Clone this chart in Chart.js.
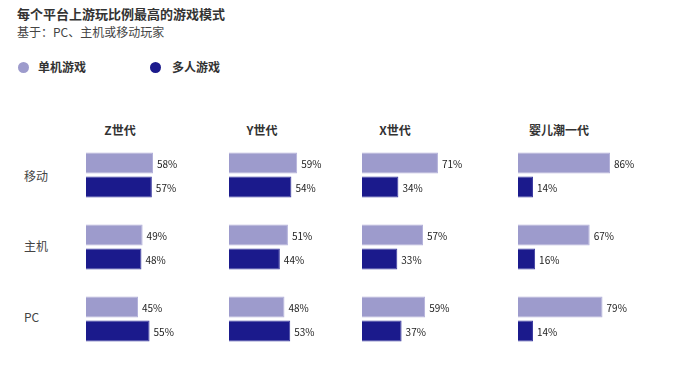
<!DOCTYPE html>
<html>
<head>
<meta charset="utf-8">
<script src="https://cdn.jsdelivr.net/npm/chart.js@4"></script>
<style>
  body { margin: 0; background: #fff; font-family: "Noto Sans CJK SC", "Noto Sans", sans-serif; }
  #page { position: relative; width: 680px; height: 365px; overflow: hidden; }
  .txt { position: absolute; white-space: nowrap; color: #333; line-height: 1; }
  .title { left: 17px; top: 7px; font-size: 13px; font-weight: bold; }
  .sub { left: 17px; top: 26px; font-size: 12px; color: #444; }
  .leg { top: 61px; font-size: 12px; font-weight: bold; }
  .dot { position: absolute; width: 11px; height: 11px; border-radius: 50%; top: 62px; }
  .head { top: 124px; font-size: 12px; font-weight: bold; transform: translateX(-50%); }
  .row { left: 24px; font-size: 12px; color: #444; }
  canvas { position: absolute; }
</style>
</head>
<body>
<div id="page">
  <div class="txt title">每个平台上游玩比例最高的游戏模式</div>
  <div class="txt sub">基于：PC、主机或移动玩家</div>
  <div class="dot" style="left:18px;background:#9d9bcc"></div>
  <div class="txt leg" style="left:38px">单机游戏</div>
  <div class="dot" style="left:150px;background:#1b1a8c"></div>
  <div class="txt leg" style="left:172px">多人游戏</div>
</div>
<script>
const platforms = ['移动', '主机', 'PC'];
const generations = ['Z世代', 'Y世代', 'X世代', '婴儿潮一代'];
const seriesNames = ['单机游戏', '多人游戏'];
const single = [
    [58, 49, 45],
    [59, 51, 48],
    [71, 57, 59],
    [86, 67, 79]
];
const multi = [
    [57, 48, 55],
    [54, 44, 53],
    [34, 33, 37],
    [14, 16, 14]
];

const page = document.getElementById('page');
const panelLeft = [86, 229, 362, 518];
const panelMax = [112.5, 112.5, 121.5, 121.5];
const headCenter = [120, 262, 395, 559];
const rowTop = [170, 240, 311];

platforms.forEach((p, i) => {
    const d = document.createElement('div');
    d.className = 'txt row';
    d.style.top = rowTop[i] + 'px';
    d.textContent = p;
    page.appendChild(d);
});

const valueLabels = {
    id: 'valueLabels',
    afterDatasetsDraw(chart) {
        const ctx = chart.ctx;
        ctx.save();
        ctx.font = '10px "Noto Sans CJK SC", sans-serif';
        ctx.fillStyle = '#222';
        ctx.textBaseline = 'middle';
        ctx.textAlign = 'left';
        chart.data.datasets.forEach((ds, di) => {
            chart.getDatasetMeta(di).data.forEach((bar, i) => {
                ctx.fillText(ds.data[i] + '%', bar.x + 4, bar.y + 1);
            });
        });
        ctx.restore();
    }
};

generations.forEach((g, k) => {
    const h = document.createElement('div');
    h.className = 'txt head';
    h.style.left = headCenter[k] + 'px';
    h.textContent = g;
    page.appendChild(h);

    const c = document.createElement('canvas');
    c.style.left = panelLeft[k] + 'px';
    c.style.top = '139px';
    c.style.width = '130px';
    c.style.height = '216px';
    c.width = 130;
    c.height = 216;
    page.appendChild(c);

    new Chart(c, {
        type: 'bar',
        data: {
            labels: platforms,
            datasets: [{
                label: seriesNames[0],
                data: single[k],
                backgroundColor: '#9d9bcc',
                borderColor: '#b3b1da',
                borderWidth: 1
            }, {
                label: seriesNames[1],
                data: multi[k],
                backgroundColor: '#1b1a8c',
                borderColor: '#3a399f',
                borderWidth: 1
            }]
        },
        options: {
            indexAxis: 'y',
            responsive: false,
            animation: false,
            layout: { padding: 0 },
            categoryPercentage: 0.667,
            barPercentage: 0.875,
            plugins: { legend: { display: false }, tooltip: { enabled: false } },
            scales: {
                x: { display: false, min: 0, max: panelMax[k] },
                y: { display: false }
            }
        },
        plugins: [valueLabels]
    });
});
</script>
</body>
</html>
